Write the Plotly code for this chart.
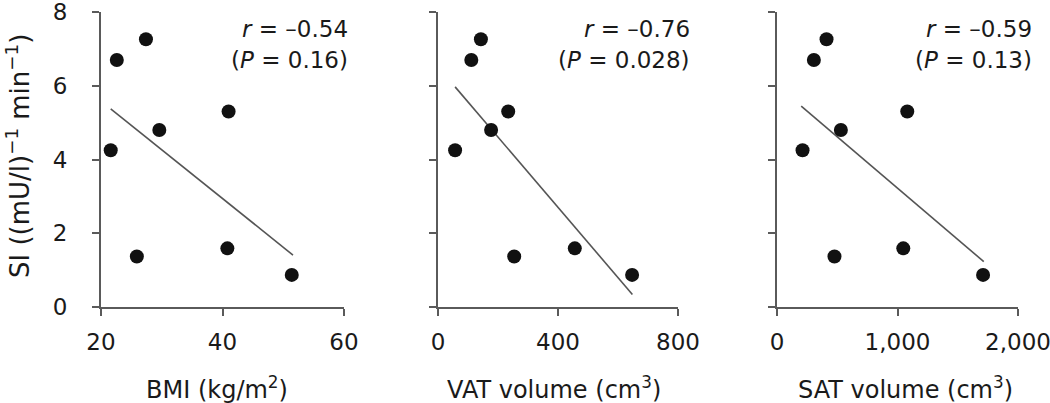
import plotly.graph_objects as go

# ---- data ----
si = [4.25, 6.7, 7.26, 4.8, 5.3, 1.37, 1.59, 0.87]
bmi = [21.6, 22.6, 27.4, 29.6, 41.0, 25.9, 40.8, 51.4]
vat = [57, 111, 143, 177, 234, 254, 456, 647]
sat = [212, 306, 411, 530, 1081, 477, 1048, 1710]

bmi_fit_x = [21.6, 51.6]
bmi_fit_y = [5.37, 1.41]
vat_fit_x = [57, 648]
vat_fit_y = [5.97, 0.34]
sat_fit_x = [201, 1716]
sat_fit_y = [5.45, 1.23]

panel_x = [bmi, vat, sat]
fits = [(bmi_fit_x, bmi_fit_y), (vat_fit_x, vat_fit_y), (sat_fit_x, sat_fit_y)]
x_ranges = [[20, 60], [0, 800], [0, 2000]]
x_dticks = [20, 400, 1000]
x_titles = ["BMI (kg/m<sup>2</sup>)", "VAT volume (cm<sup>3</sup>)", "SAT volume (cm<sup>3</sup>)"]
r_labels = ["<i>r</i> = –0.54", "<i>r</i> = –0.76", "<i>r</i> = –0.59"]
p_labels = ["(<i>P</i> = 0.16)", "(<i>P</i> = 0.028)", "(<i>P</i> = 0.13)"]
y_title = "SI ((mU/l)<sup>−1</sup> min<sup>−1</sup>)"

W, H = 1050, 403


def px(xp):
    return xp / W


def py(yp):
    return 1 - yp / H


x_px = [(101, 344), (438, 678), (777, 1018)]
y_top_px, y_bot_px = 12, 307

FONT = "DejaVu Sans, Arial, sans-serif"
FS = 23
TXT = "#1a1a1a"
AX = "#5a5a5a"

fig = go.Figure()
for i in range(3):
    xa = "x" if i == 0 else f"x{i+1}"
    ya = "y" if i == 0 else f"y{i+1}"
    fig.add_trace(go.Scatter(x=fits[i][0], y=fits[i][1], mode="lines",
                             line=dict(color="#555555", width=1.6),
                             xaxis=xa, yaxis=ya, showlegend=False))
    fig.add_trace(go.Scatter(x=panel_x[i], y=si, mode="markers",
                             marker=dict(color="#111111", size=14),
                             cliponaxis=False,
                             xaxis=xa, yaxis=ya, showlegend=False))

layout = dict(width=W, height=H,
              margin=dict(l=0, r=0, t=0, b=0, pad=0, autoexpand=False),
              paper_bgcolor="white", plot_bgcolor="white",
              font=dict(family=FONT, size=FS, color=TXT))

ydom = [py(y_bot_px), py(y_top_px)]
for i in range(3):
    k = "" if i == 0 else str(i + 1)
    layout["xaxis" + k] = dict(
        domain=[px(x_px[i][0]), px(x_px[i][1])], range=x_ranges[i],
        dtick=x_dticks[i], tick0=0, showgrid=False, zeroline=False,
        showline=True, linecolor=AX, linewidth=2, ticks="outside",
        ticklen=7, tickwidth=2, tickcolor=AX, tickformat=",",
        ticklabelstandoff=6, anchor="y" + k, automargin=False,
        ticklabeloverflow="allow",
        tickfont=dict(size=FS, family=FONT, color=TXT))
    layout["yaxis" + k] = dict(
        domain=ydom, range=[0, 8], dtick=2, showgrid=False, zeroline=False,
        showline=True, linecolor=AX, linewidth=2, ticks="outside",
        ticklen=7, tickwidth=2, tickcolor=AX, showticklabels=(i == 0),
        ticklabelstandoff=20, anchor="x" + k, automargin=False,
        ticklabeloverflow="allow",
        tickfont=dict(size=FS, family=FONT, color=TXT))

anns = []
title_cx = [217, 554, 905]
for i in range(3):
    anns.append(dict(text=x_titles[i], x=px(title_cx[i]), y=py(388), xref="paper", yref="paper",
                     showarrow=False, xanchor="center", yanchor="middle",
                     font=dict(size=24, family=FONT, color=TXT)))
    right = px([350, 692, 1034][i])
    anns.append(dict(text=r_labels[i], x=right, y=py(29), xref="paper", yref="paper",
                     showarrow=False, xanchor="right", yanchor="middle",
                     font=dict(size=FS, family=FONT, color=TXT)))
    anns.append(dict(text=p_labels[i], x=right, y=py(60), xref="paper", yref="paper",
                     showarrow=False, xanchor="right", yanchor="middle",
                     font=dict(size=FS, family=FONT, color=TXT)))
anns.append(dict(text=y_title, x=px(18), y=py(156), xref="paper", yref="paper",
                 showarrow=False, textangle=-90, xanchor="center", yanchor="middle",
                 font=dict(size=26, family=FONT, color=TXT)))
layout["annotations"] = anns

fig.update_layout(**layout)
fig.write_html("out.html",
               config={"displayModeBar": False},
               post_script="document.body.style.margin='0px';"
                           "document.body.style.overflow='hidden';")
